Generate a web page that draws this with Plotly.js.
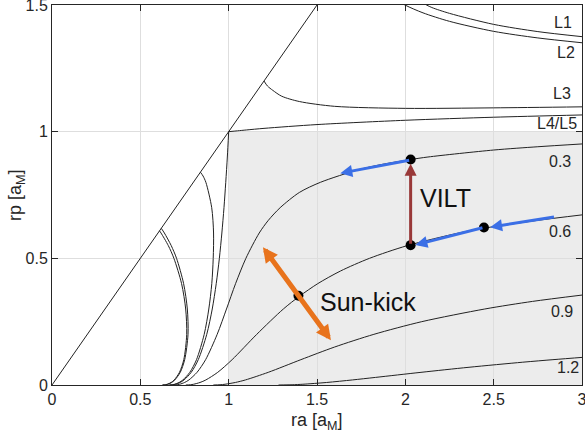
<!DOCTYPE html>
<html><head><meta charset="utf-8">
<script src="https://cdn.plot.ly/plotly-3.0.1.min.js"></script>
<style>html,body{margin:0;padding:0;background:#fff;} #chart{width:585px;height:440px;}</style>
</head><body><div id="chart"></div>
<script>
// ---- tick labels ----
const xTicks = [0, 0.5, 1, 1.5, 2, 2.5, 3];
const xTickText = ['0', '0.5', '1', '1.5', '2', '2.5', '3'];
const yTicks = [0, 0.5, 1, 1.5];
const yTickText = ['0', '0.5', '1', '1.5'];

// ---- curves (ra, rp) ----
const diagRa = [0, 1.6];
const diagRp = [0, 1.6];

const l1OutRa = [1.98, 2.12, 2.15, 2.25, 2.5, 2.75, 3.0];
const l1OutRp = [1.55, 1.5, 1.49, 1.467, 1.4235, 1.395, 1.375];
const l2OutRa = [1.88, 1.998, 2.1, 2.25, 2.5, 2.75, 3.0];
const l2OutRp = [1.55, 1.5, 1.469, 1.4355, 1.396, 1.37, 1.351];

const l1InRa = [0.6085, 0.617, 0.6585, 0.69, 0.7335, 0.7567, 0.7625, 0.746, 0.7215, 0.692, 0.6743, 0.653, 0.6412, 0.6243];
const l1InRp = [0.6085, 0.6, 0.55, 0.5, 0.4, 0.3, 0.2, 0.1, 0.05, 0.02, 0.01, 0.003, 0.001, 0];
const l2InRa = [0.6185, 0.636, 0.675, 0.705, 0.745, 0.766, 0.77, 0.751, 0.726, 0.6955, 0.6775, 0.656, 0.644, 0.627];
const l2InRp = [0.6185, 0.6, 0.55, 0.5, 0.4, 0.3, 0.2, 0.1, 0.05, 0.02, 0.01, 0.003, 0.001, 0];

const l3OutRa = [1.2, 1.22, 1.25, 1.3, 1.4, 1.6, 2.0, 2.5, 3.0];
const l3OutRp = [1.2, 1.18, 1.163, 1.14, 1.119, 1.1, 1.092, 1.094, 1.098];
const l3InRa = [0.84, 0.855, 0.871, 0.904, 0.9145, 0.9125, 0.9045, 0.8876, 0.8615, 0.818, 0.78, 0.741, 0.7195, 0.694, 0.6806, 0.6615];
const l3InRp = [0.84, 0.825, 0.8, 0.7, 0.6, 0.5, 0.4, 0.3, 0.2, 0.1, 0.05, 0.02, 0.01, 0.003, 0.001, 0];

const l45OutRa = [1.0, 1.05, 1.1, 1.2, 1.5, 2.0, 2.5, 3.0];
const l45OutRp = [1.0, 1.0033, 1.0067, 1.013, 1.028, 1.045, 1.057, 1.066];
const l45InRa = [1.0, 0.9925, 0.9835, 0.9735, 0.9615, 0.9473, 0.9296, 0.907, 0.876, 0.828, 0.788, 0.7477, 0.7255, 0.6999, 0.6861, 0.6667];
const l45InRp = [1.0, 0.9, 0.8, 0.7, 0.6, 0.5, 0.4, 0.3, 0.2, 0.1, 0.05, 0.02, 0.01, 0.003, 0.001, 0];

const v03Ra = [0.6873, 0.7081, 0.7229, 0.7507, 0.7751, 0.821, 0.8695, 0.935, 0.9877, 1.039, 1.0975, 1.173, 1.2245, 1.2915, 1.4, 1.519, 1.736, 1.863, 2.03, 2.128, 2.5, 2.75, 3.0];
const v03Rp = [0, 0.001, 0.003, 0.01, 0.02, 0.05, 0.1, 0.2, 0.3, 0.4, 0.5, 0.6, 0.65, 0.7, 0.76, 0.8, 0.85, 0.87, 0.89, 0.9, 0.9275, 0.9405, 0.9515];

const v06Ra = [0.7576, 0.7831, 0.8017, 0.8378, 0.871, 0.938, 1.0195, 1.159, 1.3095, 1.4, 1.504, 1.633, 1.797, 2.01, 2.302, 2.455, 2.75, 3.0];
const v06Rp = [0, 0.001, 0.003, 0.01, 0.02, 0.05, 0.1, 0.2, 0.3, 0.35, 0.4, 0.45, 0.5, 0.55, 0.6, 0.62, 0.65, 0.6715];

const v09Ra = [0.9132, 0.9511, 0.9796, 1.0379, 1.0951, 1.224, 1.4087, 1.6, 1.822, 2.093, 2.4495, 2.72, 3.0];
const v09Rp = [0, 0.001, 0.003, 0.01, 0.02, 0.05, 0.1, 0.15, 0.2, 0.25, 0.3, 0.33, 0.355];

const v12Ra = [1.2821, 1.359, 1.42, 1.5548, 1.7006, 1.8317, 2.0886, 2.3604, 2.6648, 2.8355, 3.02];
const v12Rp = [0, 0.001, 0.003, 0.01, 0.02, 0.03, 0.05, 0.07, 0.09, 0.1, 0.11];

// shaded region (ra range, rp range)
const regionRa = [1, 3];
const regionRp = [0, 1];

// manoeuvre points
const dotRa = [2.03, 2.03, 2.445, 1.395];
const dotRp = [0.89, 0.552, 0.622, 0.352];

// arrows: tail -> head
const blueTailRa = [2.03, 2.445, 2.85];
const blueTailRp = [0.888, 0.622, 0.664];
const blueHeadRa = [1.632, 2.057, 2.48];
const blueHeadRp = [0.836, 0.553, 0.623];
const viltTail = [2.03, 0.552];
const viltHead = [2.03, 0.873];
const sunEndA = [1.194, 0.544];
const sunEndB = [1.585, 0.171];

// curve labels
const curveLabels = ['L1', 'L2', 'L3', 'L4/L5', '0.3', '0.6', '0.9', '1.2'];
const bigLabels = ['Sun-kick', 'VILT'];

// ---- layout-only positions ----
const labelPos = [[2.895, 1.431], [2.907, 1.311], [2.884, 1.149], [2.86, 1.034],
                  [2.878, 0.882], [2.873, 0.605], [2.888, 0.289], [2.918, 0.069]];
const bigLabelPos = [[1.788, 0.329], [2.227, 0.738]];

const FONT = 'Liberation Sans, Arial, Helvetica, sans-serif';
const INK = '#262626';
const curveStyle = {color: '#222222', width: 1, shape: 'spline', smoothing: 0.8};

const curves = [
  [diagRa, diagRp], [l1OutRa, l1OutRp], [l2OutRa, l2OutRp],
  [l1InRa, l1InRp], [l2InRa, l2InRp], [l3OutRa, l3OutRp], [l3InRa, l3InRp],
  [l45OutRa, l45OutRp], [l45InRa, l45InRp],
  [v03Ra, v03Rp], [v06Ra, v06Rp], [v09Ra, v09Rp], [v12Ra, v12Rp]
];
const traces = curves.map(c => ({
  x: c[0], y: c[1], type: 'scatter', mode: 'lines',
  line: curveStyle, hoverinfo: 'skip', showlegend: false
}));
traces.push({
  x: dotRa, y: dotRp, type: 'scatter', mode: 'markers',
  marker: {color: '#000000', size: 10}, showlegend: false, hoverinfo: 'skip'
});

function arrow(tail, head, color, width, size, both) {
  return {
    x: head[0], y: head[1], ax: tail[0], ay: tail[1],
    xref: 'x', yref: 'y', axref: 'x', ayref: 'y',
    text: '', showarrow: true, arrowhead: 2, arrowsize: size,
    arrowwidth: width, arrowcolor: color, standoff: 0, startstandoff: 0,
    arrowside: both ? 'end+start' : 'end', startarrowhead: 2, startarrowsize: size
  };
}

const annotations = [];
for (let i = 0; i < blueTailRa.length; i++) {
  annotations.push(arrow([blueTailRa[i], blueTailRp[i]], [blueHeadRa[i], blueHeadRp[i]], '#3b6fe6', 3, 0.8, false));
}
annotations.push(arrow(viltTail, viltHead, '#993838', 3, 0.8, false));
annotations.push(arrow(sunEndB, sunEndA, '#e8731c', 5, 0.6, true));

curveLabels.forEach((t, i) => annotations.push({
  x: labelPos[i][0], y: labelPos[i][1], xref: 'x', yref: 'y', text: t, showarrow: false,
  font: {family: FONT, size: 16, color: INK}, xanchor: 'center', yanchor: 'middle'
}));
bigLabels.forEach((t, i) => annotations.push({
  x: bigLabelPos[i][0], y: bigLabelPos[i][1], xref: 'x', yref: 'y', text: t, showarrow: false,
  font: {family: FONT, size: 25, color: '#111111'}, xanchor: 'center', yanchor: 'middle'
}));
// axis titles
annotations.push({x: 0.5, y: -0.097, xref: 'paper', yref: 'paper', text: 'ra [a<sub>M</sub>]',
  showarrow: false, font: {family: FONT, size: 18, color: INK}, xanchor: 'center', yanchor: 'middle'});
annotations.push({x: -0.068, y: 0.5, xref: 'paper', yref: 'paper', text: 'rp [a<sub>M</sub>]',
  showarrow: false, textangle: -90, font: {family: FONT, size: 18, color: INK}, xanchor: 'center', yanchor: 'middle'});

const axisCommon = {
  ticks: 'inside', ticklen: 6, tickcolor: INK, tickwidth: 1,
  showline: true, linecolor: INK, linewidth: 1, mirror: 'ticks',
  showgrid: true, gridcolor: '#dedede', gridwidth: 1, zeroline: false,
  tickfont: {family: FONT, size: 16, color: INK}, fixedrange: true,
  ticklabeloverflow: 'allow', automargin: false
};

const layout = {
  width: 585, height: 440,
  margin: {l: 52, r: 3, t: 5, b: 55},
  paper_bgcolor: '#ffffff', plot_bgcolor: '#ffffff',
  showlegend: false,
  xaxis: Object.assign({}, axisCommon, {range: [0, 3], tickmode: 'array', tickvals: xTicks, ticktext: xTickText}),
  yaxis: Object.assign({}, axisCommon, {range: [0, 1.5], tickmode: 'array', tickvals: yTicks, ticktext: yTickText}),
  shapes: [{type: 'rect', xref: 'x', yref: 'y', x0: regionRa[0], x1: regionRa[1], y0: regionRp[0], y1: regionRp[1],
            fillcolor: '#ececec', line: {width: 0}, layer: 'below'}],
  annotations: annotations
};

Plotly.newPlot('chart', traces, layout, {staticPlot: true, displayModeBar: false});
</script></body></html>
